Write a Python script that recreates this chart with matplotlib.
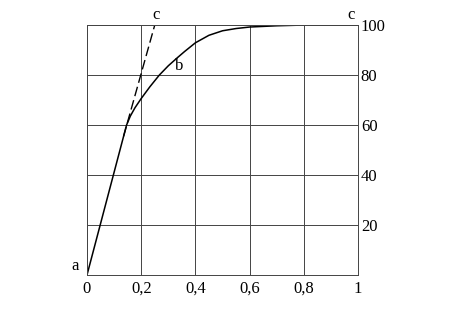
import matplotlib
matplotlib.use("Agg")
import matplotlib.pyplot as plt

# curve a-b-c
curve_x = [0.0, 0.146, 0.16, 0.177, 0.2, 0.232, 0.267, 0.3, 0.331, 0.36,
           0.4, 0.45, 0.5, 0.55, 0.6, 0.7, 0.8, 1.0]
curve_y = [0.0, 60.0, 63.6, 66.9, 70.6, 75.3, 80.0, 83.7, 86.7, 89.4,
           92.9, 95.9, 97.7, 98.6, 99.2, 99.7, 100.0, 100.0]

# dashed tangent a-c
dash_x = [0.135, 0.25]
dash_y = [55.5, 100.0]

xticks = [0, 0.2, 0.4, 0.6, 0.8, 1.0]
xlabels = ["0", "0,2", "0,4", "0,6", "0,8", "1"]
yticks = [20, 40, 60, 80, 100]
ylabels = ["20", "40", "60", "80", "100"]

plt.rcParams['font.family'] = ['Liberation Serif', 'DejaVu Serif']

fig = plt.figure(figsize=(4.61, 3.09), dpi=100, facecolor='white')
ax = fig.add_axes([0.1887, 0.110, 0.588, 0.809])

ax.plot(curve_x, curve_y, color='black', lw=1.1, solid_joinstyle='round')
ax.plot(dash_x, dash_y, color='black', lw=1.0, dashes=(7, 3))

ax.set_xlim(0, 1)
ax.set_ylim(0, 100)
ax.set_xticks(xticks)
ax.set_xticklabels(xlabels)
ax.set_yticks(yticks)
ax.set_yticklabels(ylabels)
ax.yaxis.tick_right()
ax.tick_params(length=0, labelsize=12, pad=2)
ax.tick_params(axis='x', pad=4)
ax.grid(True, color='#444444', lw=0.7)
for s in ax.spines.values():
    s.set_color('#444444')
    s.set_linewidth(0.7)

ax.text(-0.03, 0.5, "a", fontsize=12, ha='right', va='bottom')
ax.text(0.34, 83.5, "b", fontsize=12, ha='center', va='center')
ax.text(0.255, 101, "c", fontsize=12, ha='center', va='bottom')
ax.text(0.975, 101, "c", fontsize=12, ha='center', va='bottom')

fig.savefig("out.png", dpi=100, facecolor='white')
